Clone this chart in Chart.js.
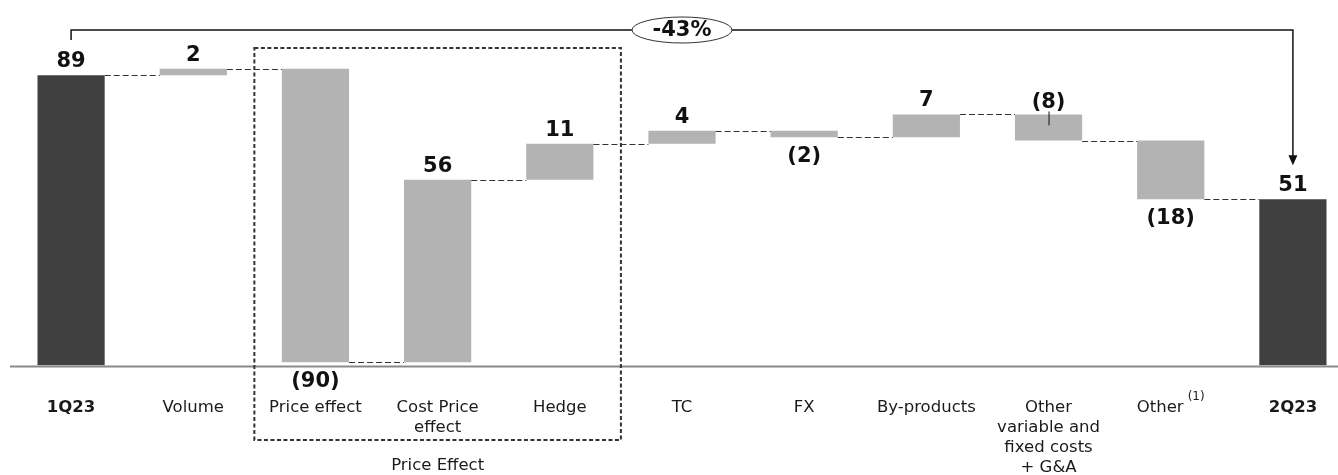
<!DOCTYPE html>
<html lang="en">
<head>
<meta charset="UTF-8" />
<title>EBITDA bridge 1Q23 - 2Q23</title>
<script src="https://cdn.jsdelivr.net/npm/chart.js@4.4.0/dist/chart.umd.min.js"></script>
<style>
  body {
    margin: 0;
    background: #fff;
    overflow: hidden;
  }
  .wrap {
    width: 1360px;
    height: 475px;
    position: relative;
  }
</style>
</head>
<body>
<div class="wrap"><canvas id="bridge"></canvas></div>
<script>
// bridge steps, first and last are totals
const categories = [
  ["1Q23"], ["Volume"], ["Price effect"], ["Cost Price", "effect"], ["Hedge"],
  ["TC"], ["FX"], ["By-products"], ["Other", "variable and", "fixed costs", "+ G&A"],
  ["Other"], ["2Q23"]
];
const steps = [89, 2, -90, 56, 11, 4, -2, 7, -8, -18, 51];
const isTotal = [true, false, false, false, false, false, false, false, false, false, true];
const footnotes = ["", "", "", "", "", "", "", "", "", "(1)", ""];
const changeLabel = "-43%";
const groupLabel = "Price Effect";
const groupRange = [2, 4];

// floating ranges for each bar
let running = 0;
const ranges = steps.map((v, i) => {
  if (isTotal[i]) {
    running = v;
    return [0, v];
  }
  const from = running;
  running += v;
  return [from, running];
});

const FONT = "'DejaVu Sans', Verdana, sans-serif";
const fmt = v => (v < 0 ? "(" + Math.abs(v) + ")" : String(v));

const bridgeDecor = {
  id: "bridgeDecor",
  afterDatasetsDraw(chart) {
    const { ctx, chartArea } = chart;
    const x = chart.scales.x;
    const y = chart.scales.y;
    const bars = chart.getDatasetMeta(0).data;
    const band = x.getPixelForValue(1) - x.getPixelForValue(0);

    ctx.save();

    // base line
    ctx.strokeStyle = "#8a8a8a";
    ctx.lineWidth = 2;
    ctx.beginPath();
    ctx.moveTo(chartArea.left, y.getPixelForValue(0) + 1);
    ctx.lineTo(chartArea.right, y.getPixelForValue(0) + 1);
    ctx.stroke();

    // connectors between bars
    ctx.strokeStyle = "#333";
    ctx.lineWidth = 1.2;
    ctx.setLineDash([6, 3]);
    for (let i = 0; i < bars.length - 1; i++) {
      const lvl = Math.round(y.getPixelForValue(ranges[i][1])) + 0.5;
      ctx.beginPath();
      ctx.moveTo(bars[i].x + bars[i].width / 2, lvl);
      ctx.lineTo(bars[i + 1].x - bars[i + 1].width / 2, lvl);
      ctx.stroke();
    }
    ctx.setLineDash([]);

    // value labels
    ctx.fillStyle = "#111";
    ctx.font = "bold 21px " + FONT;
    ctx.textAlign = "center";
    bars.forEach((b, i) => {
      const top = Math.min(b.y, b.base);
      const bottom = Math.max(b.y, b.base);
      const v = steps[i];
      if (i === 8) {
        // small label sits above with a leader line
        ctx.textBaseline = "alphabetic";
        ctx.fillText(fmt(v), b.x, top - 6);
        ctx.strokeStyle = "#111";
        ctx.lineWidth = 1;
        ctx.beginPath();
        ctx.moveTo(b.x + 0.5, top - 3);
        ctx.lineTo(b.x + 0.5, top + 11);
        ctx.stroke();
      } else if (v >= 0) {
        ctx.textBaseline = "alphabetic";
        ctx.fillText(fmt(v), b.x, top - 8);
      } else {
        ctx.textBaseline = "middle";
        ctx.fillText(fmt(v), b.x, bottom + 19);
      }
    });

    // category labels
    ctx.fillStyle = "#1a1a1a";
    ctx.textBaseline = "middle";
    categories.forEach((lines, i) => {
      const cx = x.getPixelForValue(i);
      ctx.font = (isTotal[i] ? "bold " : "") + "16.5px " + FONT;
      if (footnotes[i]) {
        const w = ctx.measureText(lines[0]).width;
        ctx.font = "12px " + FONT;
        const fw = ctx.measureText(footnotes[i]).width;
        const start = cx - (w + 4 + fw) / 2;
        ctx.textAlign = "left";
        ctx.fillText(footnotes[i], start + w + 4, 397);
        ctx.font = "16.5px " + FONT;
        ctx.fillText(lines[0], start, 408);
        ctx.textAlign = "center";
        return;
      }
      lines.forEach((t, k) => ctx.fillText(t, cx, 408 + k * 20));
    });

    // dashed group box
    const gx0 = x.getPixelForValue(groupRange[0]) - band / 2;
    const gx1 = x.getPixelForValue(groupRange[1]) + band / 2;
    ctx.strokeStyle = "#333";
    ctx.lineWidth = 2;
    ctx.setLineDash([4, 2.5]);
    ctx.strokeRect(gx0, 48, gx1 - gx0, 392);
    ctx.setLineDash([]);
    ctx.font = "16.5px " + FONT;
    ctx.fillText(groupLabel, x.getPixelForValue((groupRange[0] + groupRange[1]) / 2), 466);

    // overall change bracket
    const x0 = x.getPixelForValue(0);
    const x1 = x.getPixelForValue(categories.length - 1);
    const lastTop = bars[bars.length - 1].y;
    ctx.strokeStyle = "#111";
    ctx.fillStyle = "#111";
    ctx.lineWidth = 1.5;
    ctx.beginPath();
    ctx.moveTo(x0, 40);
    ctx.lineTo(x0, 30);
    ctx.lineTo(x1, 30);
    ctx.lineTo(x1, lastTop - 40);
    ctx.stroke();
    ctx.beginPath();
    ctx.moveTo(x1 - 4.5, lastTop - 44);
    ctx.lineTo(x1 + 4.5, lastTop - 44);
    ctx.lineTo(x1, lastTop - 34);
    ctx.closePath();
    ctx.fill();

    const ex = (x0 + x1) / 2;
    ctx.beginPath();
    ctx.ellipse(ex, 30, 50, 13, 0, 0, Math.PI * 2);
    ctx.fillStyle = "#fff";
    ctx.fill();
    ctx.lineWidth = 1;
    ctx.strokeStyle = "#333";
    ctx.stroke();
    ctx.fillStyle = "#111";
    ctx.font = "bold 21px " + FONT;
    ctx.textAlign = "center";
    ctx.textBaseline = "middle";
    ctx.fillText(changeLabel, ex, 31);

    ctx.restore();
  }
};

new Chart(document.getElementById("bridge"), {
  type: "bar",
  data: {
    labels: categories.map(c => c.join(" ")),
    datasets: [{
      data: ranges,
      backgroundColor: isTotal.map(t => (t ? "#404040" : "#b3b3b3")),
      borderWidth: 0,
      categoryPercentage: 1,
      barPercentage: 0.55
    }]
  },
  options: {
    responsive: true,
    maintainAspectRatio: false,
    animation: false,
    layout: { padding: { left: 10, right: 6, top: 39.5, bottom: 109.5 } },
    plugins: { legend: { display: false }, tooltip: { enabled: false } },
    scales: {
      x: { display: false },
      y: { display: false, min: 0, max: 100 }
    }
  },
  plugins: [bridgeDecor]
});
</script>
</body>
</html>
